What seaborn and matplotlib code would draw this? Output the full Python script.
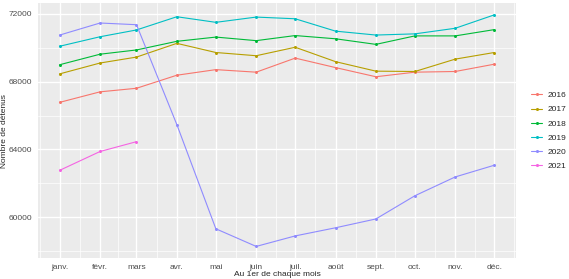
import matplotlib
matplotlib.use("Agg")
import matplotlib.pyplot as plt
import seaborn as sns
import pandas as pd
from matplotlib.ticker import FixedLocator

# day-of-year of the 1st of each month, and month labels
days = [0, 31, 59, 90, 120, 151, 181, 212, 243, 273, 304, 334]
mois = ["janv.", "févr.", "mars", "avr.", "mai", "juin",
        "juil.", "août", "sept.", "oct.", "nov.", "déc."]

annees = ["2016", "2017", "2018", "2019", "2020", "2021"]
v2016 = [66780, 67400, 67610, 68380, 68710, 68560, 69390, 68830, 68290, 68560, 68600, 69030]
v2017 = [68460, 69100, 69450, 70260, 69720, 69530, 70030, 69180, 68620, 68600, 69330, 69720]
v2018 = [69000, 69620, 69870, 70380, 70630, 70420, 70720, 70530, 70200, 70700, 70700, 71070]
v2019 = [70090, 70650, 71050, 71830, 71500, 71810, 71710, 70980, 70750, 70820, 71150, 71940]
v2020 = [70750, 71460, 71360, 65470, 59320, 58280, 58900, 59380, 59900, 61270, 62380, 63070]
v2021 = [62770, 63880, 64460]

couleurs = ["#F8766D", "#B79F00", "#00BA38", "#00BFC4", "#8F8BFF", "#F564E3"]

series = [v2016, v2017, v2018, v2019, v2020, v2021]
rows = []
for an, vals in zip(annees, series):
    for d, v in zip(days, vals):
        rows.append({"jour": d, "detenus": v, "annee": an})
df = pd.DataFrame(rows)

sns.set_theme(style="darkgrid", rc={
    "axes.facecolor": "#EBEBEB",
    "grid.color": "white",
    "axes.edgecolor": "#EBEBEB",
})
plt.rcParams["font.family"] = ["Liberation Sans", "DejaVu Sans"]

fig, ax = plt.subplots(figsize=(5.69, 2.79), dpi=100)
L, R, T, B = 38, 516, 3.3, 258
fig.subplots_adjust(left=L / 569, right=R / 569, top=1 - T / 279, bottom=1 - B / 279)

sns.lineplot(data=df, x="jour", y="detenus", hue="annee", palette=couleurs,
             marker="o", markersize=2.2, markeredgewidth=0, linewidth=0.8, ax=ax)

ax.set_xlim(-16.7, 350.7)
ax.set_ylim(57597, 72623)
ax.set_xticks(days)
ax.set_xticklabels(mois)
ax.set_yticks([60000, 64000, 68000, 72000])
ax.set_yticklabels(["60000", "64000", "68000", "72000"])
ax.xaxis.set_minor_locator(FixedLocator([(a + b) / 2 for a, b in zip(days[:-1], days[1:])] + [-15.5, 349.5]))
ax.yaxis.set_minor_locator(FixedLocator([58000, 62000, 66000, 70000]))
ax.grid(which="major", color="white", linewidth=1.0)
ax.grid(which="minor", color="white", linewidth=0.5)
ax.tick_params(axis="both", which="major", labelsize=6, colors="#333333",
               length=2.5, width=0.6, pad=1.5, labelcolor="#4D4D4D")
ax.tick_params(axis="both", which="minor", length=0)

ax.set_xlabel("Au 1er de chaque mois", fontsize=6, va="bottom")
ax.set_ylabel("Nombre de détenus", fontsize=6, va="top")
ax.xaxis.set_label_coords((L + R) / 2 / 569, 0.8 / 279, transform=fig.transFigure)
ax.yaxis.set_label_coords(1 / 569, 1 - (T + B) / 2 / 279, transform=fig.transFigure)
for s in ax.spines.values():
    s.set_visible(False)

leg = ax.legend(title="", loc="center left", bbox_to_anchor=(1.015, 0.5),
                frameon=False, fontsize=6, handlelength=1.4, labelspacing=0.75,
                handletextpad=0.6)

fig.savefig("out.png", dpi=100)
